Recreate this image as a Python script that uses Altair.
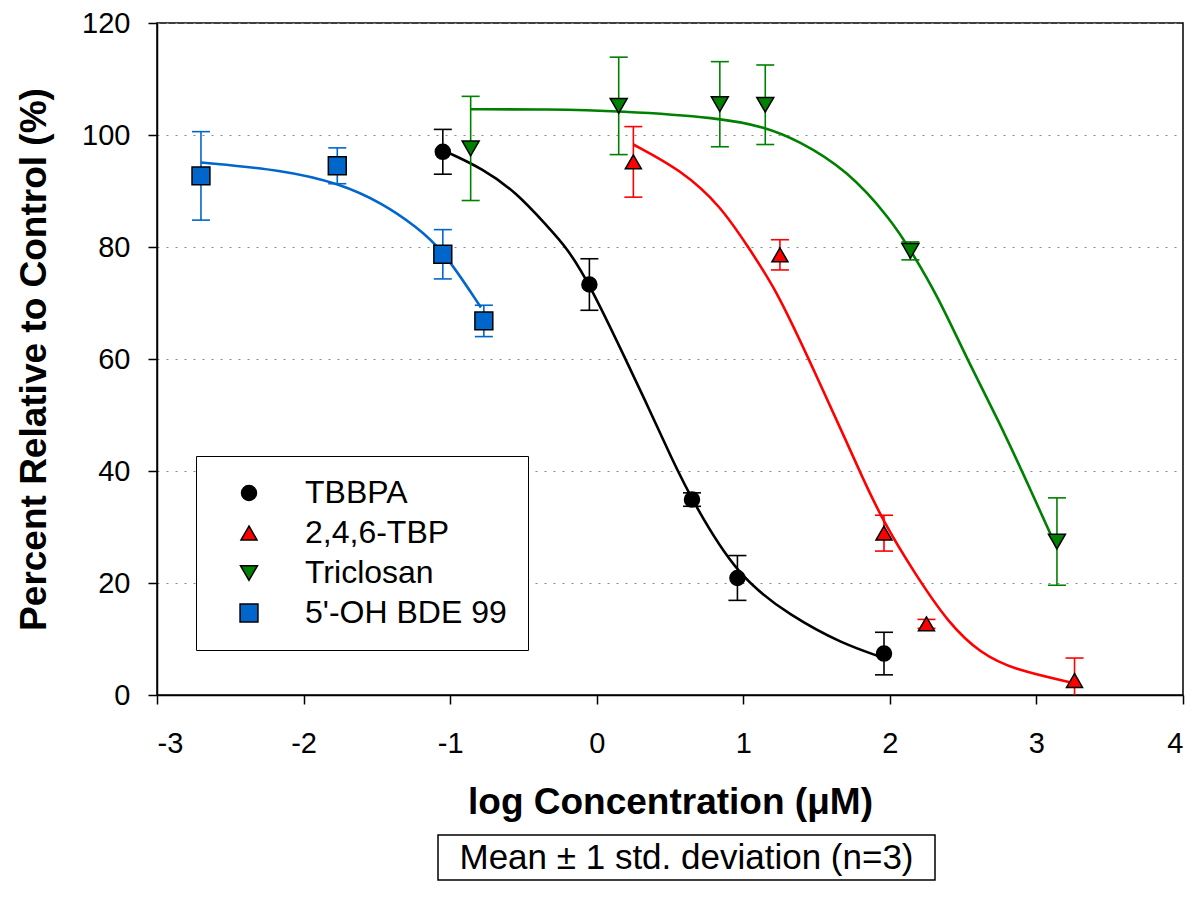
import altair as alt
import pandas as pd

# ---- categories / styling lists ----
series = ["TBBPA", "2,4,6-TBP", "Triclosan", "5'-OH BDE 99"]
colors = ["#000000", "#ff0000", "#008000", "#0066cc"]
shapes = ["circle", "triangle-up", "triangle-down", "square"]
marker_sizes = [225, 320, 320, 245]

# ---- measured points (mean, sd) ----
tbbpa_x = [-1.05, -0.05, 0.65, 0.96, 1.96]
tbbpa_y = [97.0, 73.3, 34.9, 20.9, 7.4]
tbbpa_sd = [4.0, 4.6, 1.2, 4.0, 3.8]

tbp_x = [0.25, 1.25, 1.96, 2.25, 3.26]
tbp_y = [95.2, 78.6, 28.9, 12.7, 2.6]
tbp_sd = [6.3, 2.7, 3.2, 0.8, 4.0]

tcs_x = [-0.86, 0.15, 0.84, 1.15, 2.14, 3.14]
tcs_y = [97.6, 105.2, 105.5, 105.4, 79.3, 27.4]
tcs_sd = [9.3, 8.7, 7.6, 7.1, 1.6, 7.8]

bde_x = [-2.70, -1.77, -1.05, -0.77]
bde_y = [92.7, 94.5, 78.7, 66.8]
bde_sd = [7.9, 3.2, 4.4, 2.8]

# ---- fitted curves ----
tbbpa_cx = [-1.01, -0.78, -0.55, -0.33, -0.21, -0.05, 0.20, 0.35, 0.51, 0.65, 0.96, 1.33, 1.67, 1.96]
tbbpa_cy = [96.8, 94.0, 89.8, 83.5, 80.1, 73.5, 59.8, 51.5, 42.3, 34.8, 21.1, 14.0, 9.2, 6.6]

tbp_cx = [0.25, 0.58, 0.85, 1.03, 1.22, 1.44, 1.71, 1.81, 1.96, 2.17, 2.40, 2.62, 2.85, 3.26]
tbp_cy = [98.3, 93.7, 87.2, 80.1, 72.6, 60.4, 44.9, 39.0, 30.7, 21.7, 12.8, 7.4, 4.5, 2.1]

tcs_cx = [-0.86, -0.33, 0.15, 0.84, 1.15, 1.37, 1.71, 2.01, 2.14, 2.33, 2.53, 2.74, 2.94, 3.14]
tcs_cy = [104.6, 104.6, 104.3, 103.1, 101.4, 99.1, 93.75, 84.8, 79.5, 71.1, 59.8, 49.1, 37.8, 26.2]

bde_cx = [-2.70, -2.14, -1.76, -1.46, -1.23, -1.05, -0.79]
bde_cy = [95.1, 93.75, 91.4, 87.8, 83.6, 79.5, 69.2]

point_sets = [(tbbpa_x, tbbpa_y, tbbpa_sd), (tbp_x, tbp_y, tbp_sd),
              (tcs_x, tcs_y, tcs_sd), (bde_x, bde_y, bde_sd)]
curve_sets = [(tbbpa_cx, tbbpa_cy), (tbp_cx, tbp_cy), (tcs_cx, tcs_cy), (bde_cx, bde_cy)]

pts = pd.concat([
    pd.DataFrame({"series": s, "x": xs, "y": ys, "sd": sds})
    for s, (xs, ys, sds) in zip(series, point_sets)
], ignore_index=True)
pts["lo"] = pts["y"] - pts["sd"]
pts["hi"] = pts["y"] + pts["sd"]

curves = pd.concat([
    pd.DataFrame({"series": s, "x": xs, "y": ys})
    for s, (xs, ys) in zip(series, curve_sets)
], ignore_index=True)

FONT = "Liberation Sans"

xscale = alt.Scale(domain=[-3, 4], nice=False)
yscale = alt.Scale(domain=[0, 120], nice=False)
xaxis = alt.Axis(values=list(range(-3, 5)), labelExpr="'' + datum.value",
                 title="log Concentration (μM)", grid=False,
                 titleY=118, titleBaseline="alphabetic")
yaxis = alt.Axis(values=[0, 20, 40, 60, 80, 100, 120], grid=True,
                 gridDash=[2, 7], gridColor="#8a8a8a", gridWidth=1.2,
                 title="Percent Relative to Control (%)",
                 titleX=-112, titleY=336, titleAngle=270,
                 titleBaseline="alphabetic")


def X(f="x"):
    return alt.X(f"{f}:Q", scale=xscale, axis=xaxis, title="log Concentration (μM)")


def Y(f):
    return alt.Y(f"{f}:Q", scale=yscale, axis=yaxis, title="Percent Relative to Control (%)")


cscale = alt.Scale(domain=series, range=colors)
sscale = alt.Scale(domain=series, range=shapes)

leg = alt.Legend(title=None, orient="none", legendX=39, legendY=433,
                 strokeColor="black", fillColor="white", padding=21,
                 symbolOffset=16, labelFontSize=32, labelFont=FONT,
                 labelColor="black", labelOffset=40, rowPadding=8,
                 symbolSize=300, symbolStrokeColor="black",
                 symbolStrokeWidth=1.5, labelLimit=500)

lines = alt.Chart(curves).mark_line(interpolate="basis", strokeWidth=2.6).encode(
    x=X(), y=Y("y"),
    color=alt.Color("series:N", scale=cscale, legend=None),
    detail="series:N",
)

errbars = alt.Chart(pts).mark_rule(strokeWidth=1.6, clip=True).encode(
    x=X(), y=Y("lo"), y2="hi:Q",
    color=alt.Color("series:N", scale=cscale, legend=None),
)
cap_top = alt.Chart(pts).mark_rule(strokeWidth=1.6, xOffset=-9, x2Offset=9, clip=True).encode(
    x=X(), x2="x:Q", y=Y("hi"),
    color=alt.Color("series:N", scale=cscale, legend=None),
)
cap_bot = alt.Chart(pts).mark_rule(strokeWidth=1.6, xOffset=-9, x2Offset=9, clip=True).encode(
    x=X(), x2="x:Q", y=Y("lo"),
    color=alt.Color("series:N", scale=cscale, legend=None),
)

points = alt.Chart(pts).mark_point(filled=True, opacity=1, stroke="black",
                                   strokeWidth=1.5).encode(
    x=X(), y=Y("y"),
    color=alt.Color("series:N", scale=cscale, legend=leg),
    shape=alt.Shape("series:N", scale=sscale, legend=leg),
    size=alt.Size("series:N", scale=alt.Scale(domain=series, range=marker_sizes), legend=None),
)

note = pd.DataFrame({"label": ["Mean ± 1 std. deviation (n=3)"]})
note_box = alt.Chart(note).mark_rect(fill="white", stroke="black", strokeWidth=1.5).encode(
    x=alt.value(281), x2=alt.value(778), y=alt.value(812), y2=alt.value(857)
)
note_text = alt.Chart(note).mark_text(font=FONT, fontSize=35, color="black",
                                      align="center", baseline="middle").encode(
    x=alt.value(529.5), y=alt.value(835), text="label:N"
)

chart = alt.layer(lines, errbars, cap_top, cap_bot, points, note_box, note_text).resolve_scale(
    color="independent", shape="independent", size="independent"
).properties(
    width=1026, height=672,
    autosize=alt.AutoSizeParams(type="none"),
    padding={"left": 149, "top": 15, "right": 2, "bottom": 187},
    background="white",
).configure_view(
    stroke="black", strokeWidth=1.5
).configure_axis(
    domainColor="black", domainWidth=1.5, tickColor="black", tickWidth=1.5,
    tickSize=9, labelFont=FONT, labelFontSize=29, labelColor="black",
    titleFont=FONT, titleFontSize=37, titleFontWeight="bold", titleColor="black",
).configure_axisX(labelPadding=25).configure_axisY(labelPadding=18)

chart.save("out.html", embed_options={"renderer": "svg", "actions": False})
